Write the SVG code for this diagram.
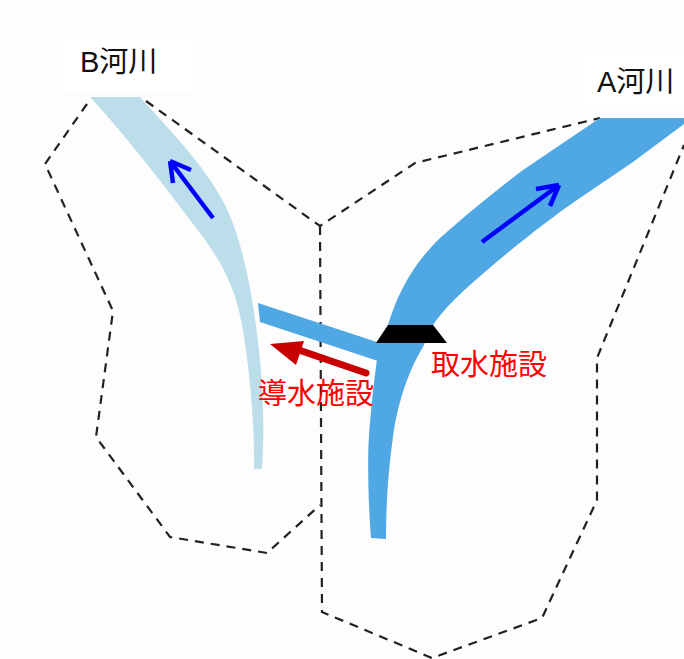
<svg xmlns="http://www.w3.org/2000/svg" width="684" height="659" viewBox="0 0 684 659">
<style>
.d{fill:none;stroke:#222;stroke-width:2.2;stroke-dasharray:9 7}
.l{font-family:"Liberation Sans","Noto Sans CJK JP",sans-serif;font-size:29px}
.k{fill:#111}.r{fill:#f00}
.bl{fill:none;stroke:#0000ff;stroke-width:4.5}
</style>
<rect width="684" height="659" fill="#fdfdfd"/>
<rect x="58" y="34" width="135" height="58" fill="#fff"/>
<rect x="578" y="50" width="106" height="60" fill="#fff"/>
<g id="boundaries">
<path class="d" d="M87 104L45 164L113 311L96 437L170 537L267 553L320 505"/>
<path class="d" d="M146 101L320 226L415 163L600 118"/>
<path class="d" d="M320 226L322 612L432 658L542 618L597 500L597 358L684 145"/>
</g>
<g id="river-b"><path fill="#bcdeea" d="M90 97H140C165 125 205 165 225 205C245 245 255 310 260 360C264 400 264 440 262 469H254C255 430 250 370 242 325C235 285 220 260 200 233C175 200 130 140 90 97Z"/></g>
<g id="river-a"><path fill="#4fa8e3" d="M600 118H684V124L633 162L577 200C545 222 500 258 470 285C455 298 442 312 433 325L423 347C410 368 398 400 393 437C389 465 386 500 386 539L371 538C368 500 367 450 370 423C372 400 374 380 377 360L388 325C397 295 412 265 440 238C460 220 490 195 523 170Z"/></g>
<g id="channel"><path fill="#4fa8e3" d="M258 303L377 342H400V361H378L260 322Z"/></g>
<g id="intake"><polygon fill="#000" points="388,325 433,325 447,343 376,343"/></g>
<g id="connectors">
<path class="bl" d="M213 218L170 161M170 161L173 183M170 161L191 170"/>
<path class="bl" d="M482 242L559 185M559 185L536 189M559 185L550 206"/>
<path fill="none" stroke="#c80000" stroke-width="7" stroke-linecap="round" d="M366 373L293 348"/>
<polygon fill="#c80000" points="270,344 304,341 296,365"/>
</g>
<g id="label-b"><text class="l k" x="80" y="72">B河川</text></g>
<g id="label-a"><text class="l k" x="597" y="92">A河川</text></g>
<g id="label-intake"><text class="l r" x="431" y="375">取水施設</text></g>
<g id="label-conduit"><text class="l r" x="258" y="404">導水施設</text></g>
</svg>
